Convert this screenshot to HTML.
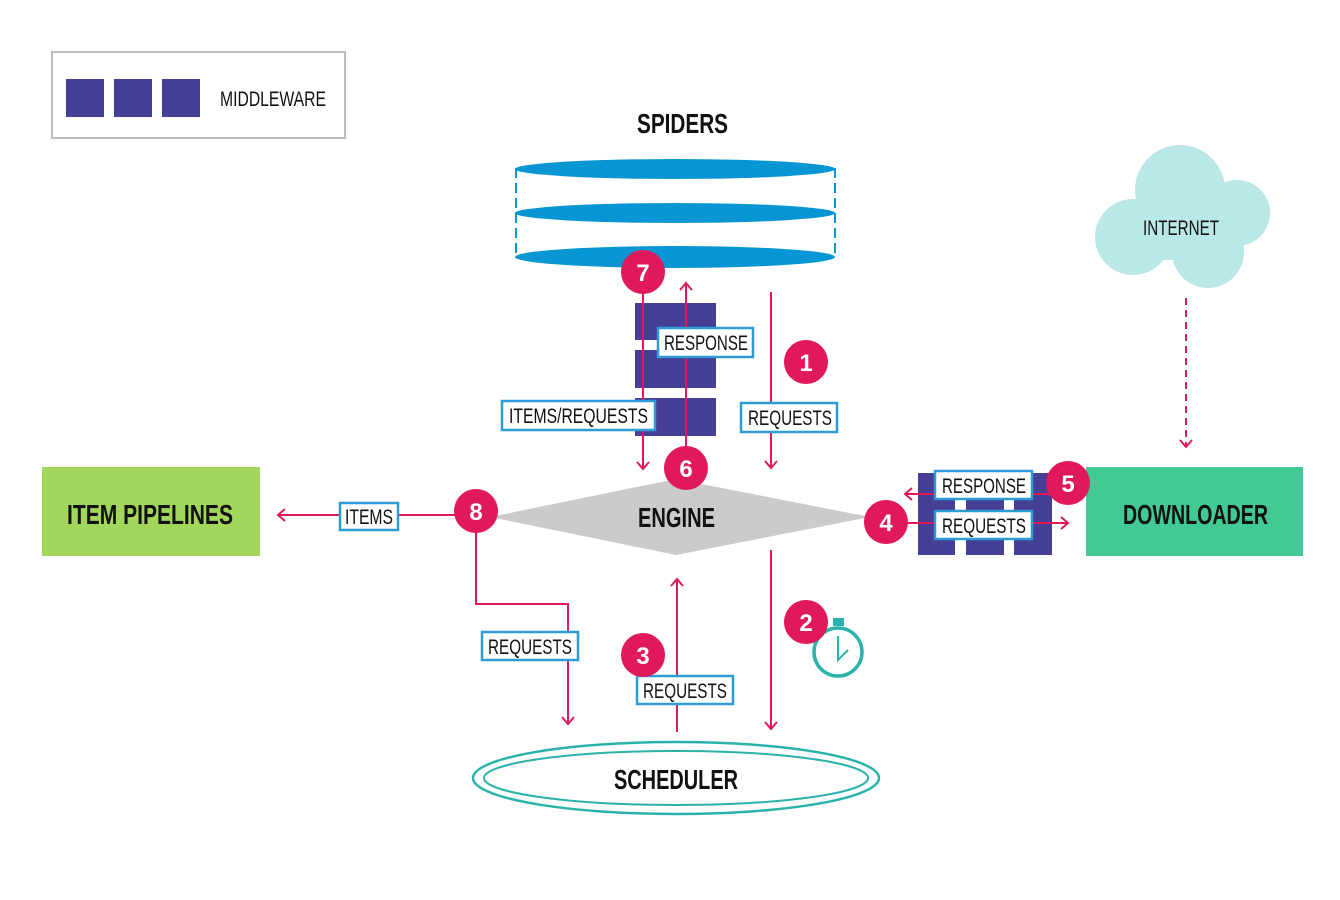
<!DOCTYPE html>
<html><head><meta charset="utf-8"><style>
html,body{margin:0;padding:0;background:#fff;width:1340px;height:900px;overflow:hidden}
svg{display:block}
.t{font-family:"Liberation Sans",sans-serif;font-size:21px;fill:#111}
.b{font-family:"Liberation Sans",sans-serif;font-weight:bold;font-size:28px;fill:#111}
.n{font-family:"Liberation Sans","DejaVu Sans",sans-serif;font-weight:bold;font-size:24px;fill:#fff}
.lb{fill:#fff;stroke:#2d9bd6;stroke-width:2.5}
.ln{stroke:#e0195a;stroke-width:2;fill:none}
.ar{fill:none;stroke:#e0195a;stroke-width:2}
</style></head><body>
<svg width="1340" height="900" viewBox="0 0 1340 900">
<rect x="52" y="52" width="293" height="86" fill="#fff" stroke="#bbb" stroke-width="2"/>
<rect x="66" y="79" width="38" height="38" fill="#453f95"/>
<rect x="114" y="79" width="38" height="38" fill="#453f95"/>
<rect x="162" y="79" width="38" height="38" fill="#453f95"/>
<text x="220" y="106" class="t" textLength="106" lengthAdjust="spacingAndGlyphs">MIDDLEWARE</text>

<text x="637" y="133" class="b" textLength="91" lengthAdjust="spacingAndGlyphs">SPIDERS</text>
<line x1="516" y1="168" x2="516" y2="257" stroke="#0895d3" stroke-width="2" stroke-dasharray="10,5"/>
<line x1="835" y1="168" x2="835" y2="257" stroke="#0895d3" stroke-width="2" stroke-dasharray="10,5"/>
<ellipse cx="675" cy="169" rx="160" ry="10" fill="#0895d3"/>
<ellipse cx="675" cy="213" rx="160" ry="10" fill="#0895d3"/>
<ellipse cx="675" cy="257" rx="160" ry="11" fill="#0895d3"/>

<rect x="635" y="303" width="81" height="37" fill="#453f95"/>
<rect x="635" y="350" width="81" height="38" fill="#453f95"/>
<rect x="635" y="398" width="81" height="38" fill="#453f95"/>

<line x1="643" y1="280" x2="643" y2="469" class="ln"/>
<polyline points="637,462 643,469 649,462" class="ar"/>
<line x1="686" y1="460" x2="686" y2="283" class="ln"/>
<polyline points="680,290 686,283 692,290" class="ar"/>
<line x1="771" y1="292" x2="771" y2="468" class="ln"/>
<polyline points="765,461 771,468 777,461" class="ar"/>

<rect x="658" y="328" width="95" height="29" class="lb"/>
<text x="664" y="350" class="t" textLength="84" lengthAdjust="spacingAndGlyphs">RESPONSE</text>
<rect x="502" y="401" width="153" height="29" class="lb"/>
<text x="509" y="423" class="t" textLength="139" lengthAdjust="spacingAndGlyphs">ITEMS/REQUESTS</text>
<rect x="741" y="403" width="96" height="29" class="lb"/>
<text x="748" y="425" class="t" textLength="84" lengthAdjust="spacingAndGlyphs">REQUESTS</text>

<polygon points="490,517 676,479 870,517 676,555" fill="#cbcbcb"/>
<text x="638" y="527" class="b" textLength="77" lengthAdjust="spacingAndGlyphs">ENGINE</text>

<rect x="42" y="467" width="218" height="89" fill="#a3d75c"/>
<text x="67" y="524" class="b" textLength="166" lengthAdjust="spacingAndGlyphs">ITEM PIPELINES</text>
<line x1="455" y1="515" x2="278" y2="515" class="ln"/>
<polyline points="285,509 278,515 285,521" class="ar"/>
<rect x="340" y="503" width="58" height="27" class="lb"/>
<text x="345" y="524" class="t" textLength="48" lengthAdjust="spacingAndGlyphs">ITEMS</text>

<polyline points="476,520 476,604 568,604 568,724" class="ln"/>
<polyline points="562,717 568,724 574,717" class="ar"/>
<rect x="482" y="632" width="96" height="28" class="lb"/>
<text x="488" y="654" class="t" textLength="84" lengthAdjust="spacingAndGlyphs">REQUESTS</text>

<line x1="677" y1="732" x2="677" y2="579" class="ln"/>
<polyline points="671,586 677,579 683,586" class="ar"/>
<rect x="637" y="676" width="96" height="28" class="lb"/>
<text x="643" y="698" class="t" textLength="84" lengthAdjust="spacingAndGlyphs">REQUESTS</text>

<line x1="771" y1="550" x2="771" y2="729" class="ln"/>
<polyline points="765,722 771,729 777,722" class="ar"/>

<rect x="833" y="618" width="11" height="8" fill="#2bb3ab"/>
<circle cx="838" cy="652" r="24" fill="#fff" stroke="#2bb3ab" stroke-width="3.5"/>
<polyline points="838,636 838,660 848,650" fill="none" stroke="#2bb3ab" stroke-width="2"/>

<ellipse cx="676" cy="778" rx="203" ry="36" fill="#fff" stroke="#2bb3ab" stroke-width="2.5"/>
<ellipse cx="676" cy="778" rx="192" ry="27" fill="#fff" stroke="#2bb3ab" stroke-width="2"/>
<text x="614" y="789" class="b" textLength="124" lengthAdjust="spacingAndGlyphs">SCHEDULER</text>

<rect x="918" y="473" width="37" height="82" fill="#453f95"/>
<rect x="966" y="473" width="38" height="82" fill="#453f95"/>
<rect x="1014" y="473" width="38" height="82" fill="#453f95"/>
<line x1="1050" y1="494" x2="905" y2="494" class="ln"/>
<polyline points="912,488 905,494 912,500" class="ar"/>
<line x1="890" y1="523" x2="1068" y2="523" class="ln"/>
<polyline points="1061,517 1068,523 1061,529" class="ar"/>
<rect x="935" y="471" width="97" height="28" class="lb"/>
<text x="942" y="493" class="t" textLength="84" lengthAdjust="spacingAndGlyphs">RESPONSE</text>
<rect x="935" y="511" width="97" height="28" class="lb"/>
<text x="942" y="533" class="t" textLength="84" lengthAdjust="spacingAndGlyphs">REQUESTS</text>

<rect x="1086" y="467" width="217" height="89" fill="#43c993"/>
<text x="1123" y="524" class="b" textLength="145" lengthAdjust="spacingAndGlyphs">DOWNLOADER</text>

<g fill="#bae7e8">
<circle cx="1180" cy="190" r="45"/>
<circle cx="1237" cy="213" r="33"/>
<circle cx="1133" cy="237" r="38"/>
<circle cx="1208" cy="252" r="36"/>
<rect x="1135" y="200" width="90" height="60"/>
</g>
<text x="1143" y="235" class="t" textLength="76" lengthAdjust="spacingAndGlyphs">INTERNET</text>
<line x1="1186" y1="298" x2="1186" y2="446" stroke="#e0195a" stroke-width="2" stroke-dasharray="7,5"/>
<polyline points="1180,440 1186,447 1192,440" class="ar"/>

<g fill="#e0195a">
<circle cx="643" cy="272" r="22"/>
<circle cx="686" cy="468" r="22"/>
<circle cx="806" cy="362" r="22"/>
<circle cx="476" cy="511" r="22"/>
<circle cx="806" cy="622" r="22"/>
<circle cx="643" cy="655" r="22"/>
<circle cx="886" cy="522" r="22"/>
<circle cx="1068" cy="483" r="22"/>
</g>
<g text-anchor="middle">
<text x="643" y="281" class="n">7</text>
<text x="686" y="477" class="n">6</text>
<text x="806" y="371" class="n">1</text>
<text x="476" y="520" class="n">8</text>
<text x="806" y="631" class="n">2</text>
<text x="643" y="664" class="n">3</text>
<text x="886" y="531" class="n">4</text>
<text x="1068" y="492" class="n">5</text>
</g>
</svg>
</body></html>
